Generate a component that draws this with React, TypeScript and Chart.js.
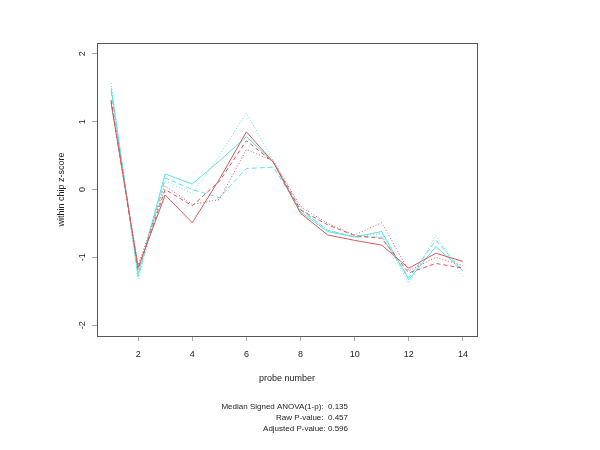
import React, { useEffect, useRef } from "react";
import { Chart, registerables } from "chart.js";

Chart.register(...registerables);

const probes = [1, 2, 3, 4, 5, 6, 7, 8, 9, 10, 11, 12, 13, 14];
const xTickValues = [2, 4, 6, 8, 10, 12, 14];
const yTickValues = [-2, -1, 0, 1, 2];

const redSolid = [1.28, -1.15, -0.08, -0.49, 0.15, 0.85, 0.4, -0.35, -0.67, -0.75, -0.82, -1.16, -0.94, -1.06];
const redDashed = [1.32, -1.18, 0.0, -0.24, 0.12, 0.72, 0.4, -0.3, -0.52, -0.68, -0.72, -1.23, -1.09, -1.16];
const redDotted = [1.3, -1.12, 0.05, -0.22, -0.15, 0.59, 0.42, -0.25, -0.5, -0.67, -0.49, -1.2, -1.0, -1.12];
const cyanSolid = [1.5, -1.25, 0.23, 0.08, 0.42, 0.78, 0.4, -0.33, -0.62, -0.7, -0.62, -1.33, -0.84, -1.2];
const cyanDashed = [1.45, -1.28, 0.17, 0.0, -0.12, 0.31, 0.33, -0.3, -0.6, -0.7, -0.7, -1.3, -0.75, -1.2];
const cyanDotted = [1.57, -1.32, 0.13, -0.06, 0.5, 1.13, 0.42, -0.28, -0.6, -0.7, -0.65, -1.38, -0.68, -1.28];

const xLabel = "probe number";
const yLabel = "within chip z-score";
const statLines = [
  "Median Signed ANOVA(1-p):  0.135",
  "Raw P-value:  0.457",
  "Adjusted P-value: 0.596",
];

const RED = "rgb(215,90,90)";
const CYAN = "rgb(90,225,225)";

function mk(label: string, values: number[], color: string, dash: number[]) {
  return {
    label,
    data: probes.map((p, i) => ({ x: p, y: values[i] })),
    borderColor: color,
    backgroundColor: color,
    borderWidth: 1,
    borderDash: dash,
    pointRadius: 0,
    fill: false,
    tension: 0,
  };
}

const FONT = "Liberation Sans, Arial, sans-serif";

const textPlugin = {
  id: "rtext",
  afterDraw(chart: any) {
    const { ctx, chartArea } = chart;
    const xs = chart.scales.x;
    const ys = chart.scales.y;
    ctx.save();
    // box
    ctx.strokeStyle = "#555";
    ctx.lineWidth = 1;
    ctx.strokeRect(
      Math.round(chartArea.left) + 0.5,
      Math.round(chartArea.top) + 0.5,
      Math.round(chartArea.right - chartArea.left),
      Math.round(chartArea.bottom - chartArea.top)
    );
    ctx.fillStyle = "#222";
    ctx.font = "9px " + FONT;
    ctx.textAlign = "center";
    ctx.textBaseline = "middle";
    // x tick labels
    xTickValues.forEach((v) => {
      ctx.fillText(String(v), xs.getPixelForValue(v), 355);
    });
    // x title
    ctx.fillText(xLabel, (chartArea.left + chartArea.right) / 2, 379);
    // y tick labels rotated
    yTickValues.forEach((v) => {
      ctx.save();
      ctx.translate(83, ys.getPixelForValue(v));
      ctx.rotate(-Math.PI / 2);
      ctx.fillText(String(v), 0, 0);
      ctx.restore();
    });
    // y title
    ctx.save();
    ctx.translate(62, (chartArea.top + chartArea.bottom) / 2);
    ctx.rotate(-Math.PI / 2);
    ctx.fillText(yLabel, 0, 0);
    ctx.restore();
    // stats
    ctx.font = "8px " + FONT;
    ctx.textAlign = "right";
    statLines.forEach((s, i) => {
      ctx.fillText(s, 348, 407 + i * 11);
    });
    ctx.restore();
  },
};

export default function App() {
  const ref = useRef<HTMLCanvasElement | null>(null);
  useEffect(() => {
    if (!ref.current) return;
    const chart = new Chart(ref.current, {
      type: "line",
      data: {
        datasets: [
          mk("red solid", redSolid, RED, []),
          mk("red dashed", redDashed, RED, [4, 3]),
          mk("red dotted", redDotted, RED, [1, 2]),
          mk("cyan solid", cyanSolid, CYAN, []),
          mk("cyan dashed", cyanDashed, CYAN, [5, 3]),
          mk("cyan dotted", cyanDotted, CYAN, [1, 2]),
        ],
      },
      options: {
        animation: false,
        responsive: false,
        layout: { padding: { left: 0, right: 123, top: 43, bottom: 84 } },
        plugins: { legend: { display: false }, tooltip: { enabled: false } },
        scales: {
          x: {
            type: "linear",
            min: 0.48,
            max: 14.52,
            afterBuildTicks: (s: any) => {
              s.ticks = xTickValues.map((v) => ({ value: v }));
            },
            afterFit: (s: any) => {
              s.height = 30;
            },
            ticks: { display: false },
            border: { display: false },
            grid: { drawOnChartArea: false, drawTicks: true, tickLength: 5, color: "#aaa" },
          },
          y: {
            type: "linear",
            min: -2.16,
            max: 2.16,
            afterBuildTicks: (s: any) => {
              s.ticks = yTickValues.map((v) => ({ value: v }));
            },
            afterFit: (s: any) => {
              s.width = 97;
            },
            ticks: { display: false },
            border: { display: false },
            grid: { drawOnChartArea: false, drawTicks: true, tickLength: 5, color: "#aaa" },
          },
        },
      },
      plugins: [textPlugin],
    } as any);
    return () => chart.destroy();
  }, []);
  return (
    <canvas
      ref={ref}
      width={600}
      height={450}
      style={{ position: "absolute", left: 0, top: 0, width: 600, height: 450, background: "#fff" }}
    />
  );
}
